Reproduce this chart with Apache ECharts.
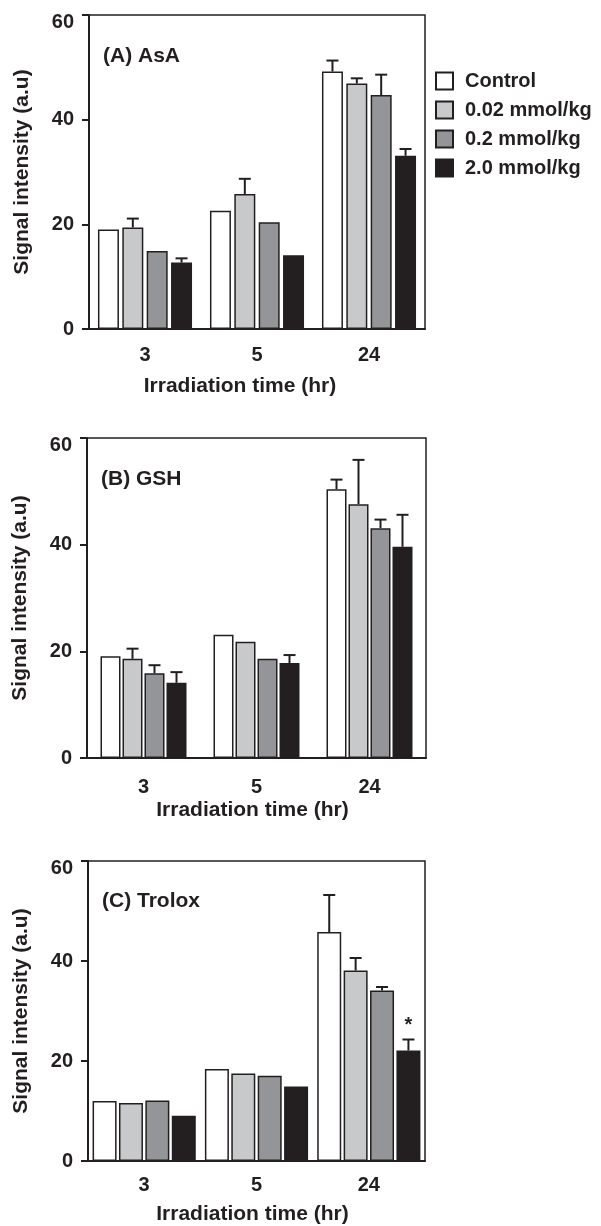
<!DOCTYPE html>
<html>
<head>
<meta charset="utf-8">
<script src="https://cdn.jsdelivr.net/npm/echarts@6/dist/echarts.min.js"></script>
<style>
  html, body { margin: 0; padding: 0; background: #fff; }
  #chart { width: 601px; height: 1226px; }
</style>
</head>
<body>
<div id="chart"></div>
<script>
// categories / legend
var categories = ['3', '5', '24'];
var doseNames = ['Control', '0.02 mmol/kg', '0.2 mmol/kg', '2.0 mmol/kg'];

// (A) AsA
var aControl = [19.0, 22.6, 49.2];
var a002 = [19.4, 25.8, 46.9];
var a02 = [14.9, 20.4, 44.7];
var a20 = [12.7, 14.1, 33.1];
var aErrControl = [0, 0, 2.1];
var aErr002 = [1.7, 2.9, 1.0];
var aErr02 = [0, 0, 3.9];
var aErr20 = [0.8, 0, 1.3];

// (B) GSH
var bControl = [19.1, 23.1, 50.4];
var b002 = [18.6, 21.8, 47.6];
var b02 = [15.9, 18.6, 43.1];
var b20 = [14.1, 17.8, 39.6];
var bErrControl = [0, 0, 1.8];
var bErr002 = [1.9, 0, 8.3];
var bErr02 = [1.5, 0, 1.6];
var bErr20 = [2.0, 1.5, 6.0];

// (C) Trolox
var cControl = [12.0, 18.4, 45.8];
var c002 = [11.6, 17.5, 38.1];
var c02 = [12.1, 17.05, 34.1];
var c20 = [9.05, 14.9, 22.1];
var cErrControl = [0, 0, 7.4];
var cErr002 = [0, 0, 2.5];
var cErr02 = [0, 0, 0.7];
var cErr20 = [0, 0, 2.2];
// significance marks: [category index, dose index]
var sigC = [[2, 3]];

var ink = '#231f20';
var fills = ['#ffffff', '#c8c9cb', '#939598', '#231f20'];
var font = 'Liberation Sans, Arial, Helvetica, sans-serif';

var chart = echarts.init(document.getElementById('chart'));

var grids = [], xAxes = [], yAxes = [], series = [], titles = [];

//每个面板
function addPanel(k, label, vals, errs, sig, g) {
    grids.push({
        left: g.left, top: g.top, width: g.width, height: g.height,
        show: true, borderColor: ink, borderWidth: 1.5, backgroundColor: 'transparent'
    });
    xAxes.push({
        type: 'category', gridIndex: k, data: categories,
        axisLine: {lineStyle: {color: ink, width: 2}},
        axisTick: {alignWithLabel: true, length: 8, lineStyle: {color: ink, width: 2}},
        axisLabel: {color: ink, fontSize: 20, fontWeight: 'bold', fontFamily: font, margin: g.labelMargin},
        name: 'Irradiation time (hr)', nameLocation: 'middle', nameGap: g.nameGap,
        nameTextStyle: {color: ink, fontSize: 21, fontWeight: 'bold', fontFamily: font, padding: g.namePad}
    });
    yAxes.push({
        type: 'value', gridIndex: k, min: 0, max: 60, interval: 20,
        splitLine: {show: false},
        axisLine: {show: true, lineStyle: {color: ink, width: 2}},
        axisTick: {show: true, length: 7, lineStyle: {color: ink, width: 2}},
        axisLabel: {
            color: ink, fontSize: 20, fontWeight: 'bold', fontFamily: font, margin: 15,
            formatter: function (v) { return v == 60 ? '{top|60}' : v; },
            rich: {top: {padding: [15, 0, 0, 0], color: ink, fontSize: 20, fontWeight: 'bold', fontFamily: font}}
        },
        name: 'Signal intensity (a.u)', nameLocation: 'middle', nameGap: 56,
        nameTextStyle: {color: ink, fontSize: 21, fontWeight: 'bold', fontFamily: font}
    });
    titles.push({
        text: label, left: g.left + 14, top: g.titleTop, padding: 0,
        textStyle: {color: ink, fontSize: 21, fontWeight: 'bold', fontFamily: font}
    });
    for (var s = 0; s < 4; s++) {
        series.push({
            name: doseNames[s], type: 'bar', xAxisIndex: k, yAxisIndex: k,
            data: vals[s], barWidth: g.barWidth, barGap: (g.gap * 100) + '%',
            itemStyle: {color: fills[s], borderColor: ink, borderWidth: 1.5},
            emphasis: {disabled: true}, silent: true
        });
    }
    var errData = [];
    for (var s2 = 0; s2 < 4; s2++) {
        for (var c = 0; c < categories.length; c++) {
            var star = 0;
            for (var m = 0; m < sig.length; m++) {
                if (sig[m][0] == c && sig[m][1] == s2) star = 1;
            }
            errData.push([c, s2, vals[s2][c], errs[s2][c], star]);
        }
    }
    var bw = g.barWidth, gap = g.gap;
    series.push({
        type: 'custom', xAxisIndex: k, yAxisIndex: k, z: 5, silent: true,
        data: errData,
        renderItem: function (params, api) {
            var c = api.value(0), s = api.value(1), v = api.value(2), e = api.value(3);
            var base = api.coord([c, v]);
            var x = base[0] + (s - 1.5) * bw * (1 + gap);
            var kids = [];
            var topY = base[1];
            if (e > 0) {
                topY = api.coord([c, v + e])[1];
                kids.push({type: 'line', shape: {x1: x, y1: base[1], x2: x, y2: topY},
                    style: {stroke: ink, lineWidth: 2}});
                kids.push({type: 'line', shape: {x1: x - 6, y1: topY, x2: x + 6, y2: topY},
                    style: {stroke: ink, lineWidth: 2}});
            }
            if (api.value(4)) {
                kids.push({type: 'text', x: x, y: topY - 14,
                    style: {text: '*', fill: ink, font: 'bold 20px ' + font, align: 'center', verticalAlign: 'middle'}});
            }
            return {type: 'group', children: kids};
        }
    });
}

addPanel(0, '(A) AsA',
    [aControl, a002, a02, a20], [aErrControl, aErr002, aErr02, aErr20], [],
    {left: 89, top: 15, width: 336, height: 314, labelMargin: 16, nameGap: 47, namePad: [0, 34, 0, 0], titleTop: 46, barWidth: 21, gap: 0.16});
addPanel(1, '(B) GSH',
    [bControl, b002, b02, b20], [bErrControl, bErr002, bErr02, bErr20], [],
    {left: 87, top: 438, width: 339, height: 320, labelMargin: 19, nameGap: 42, namePad: [0, 8, 0, 0], titleTop: 469, barWidth: 20, gap: 0.1});
addPanel(2, '(C) Trolox',
    [cControl, c002, c02, c20], [cErrControl, cErr002, cErr02, cErr20], sigC,
    {left: 88, top: 861, width: 337, height: 302, labelMargin: 14, nameGap: 43, namePad: [0, 8, 0, 0], titleTop: 891, barWidth: 24, gap: 0.1});

var option = {
    animation: false,
    title: titles,
    legend: {
        data: doseNames, orient: 'vertical', left: 435, top: 71, padding: 0,
        icon: 'rect', itemWidth: 17, itemHeight: 17, itemGap: 9,
        selectedMode: false,
        textStyle: {color: ink, fontSize: 20, fontWeight: 'bold', fontFamily: font, padding: [0, 0, 0, 7]}
    },
    grid: grids,
    xAxis: xAxes,
    yAxis: yAxes,
    series: series
};
chart.setOption(option);
</script>
</body>
</html>
